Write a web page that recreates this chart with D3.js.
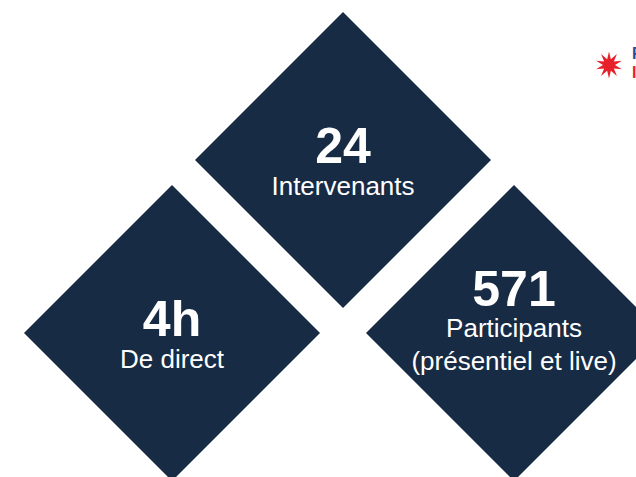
<!DOCTYPE html>
<html>
<head>
<meta charset="utf-8">
<script src="https://cdn.jsdelivr.net/npm/d3@7"></script>
<style>
  html, body { margin: 0; padding: 0; background: #fff; }
  svg { display: block; font-family: "Liberation Sans", Arial, sans-serif; }
</style>
</head>
<body>
<script>
"use strict";

const width = 636;
const height = 477;

// key figures
const figures = ["24", "4h", "571"];
const labels = [["Intervenants"], ["De direct"], ["Participants", "(présentiel et live)"]];
const cols = [1, 0, 2];
const rows = [0, 1, 1];

const data = figures.map((f, i) => ({ figure: f, label: labels[i], col: cols[i], row: rows[i] }));

let x = d3.scaleLinear().domain([0, 2]).range([172, 514]);
let y = d3.scaleLinear().domain([0, 1]).range([160, 333]);
const r = 148;

let svg = d3.select("body").append("svg")
    .attr("width", width)
    .attr("height", height);

let line = d3.line();

let g = svg.selectAll("g.tile")
    .data(data)
    .enter()
    .append("g")
    .attr("class", "tile")
    .attr("transform", d => `translate(${x(d.col)},${y(d.row)})`);

g.append("path")
    .attr("d", line([[0, -r], [r, 0], [0, r], [-r, 0]]) + "Z")
    .style("fill", "#172b45");

g.append("text")
    .attr("text-anchor", "middle")
    .attr("y", d => d.label.length > 1 ? -27 : 3)
    .style("fill", "#fff")
    .style("font-weight", "bold")
    .style("font-size", "50px")
    .text(d => d.figure);

g.each(function(d) {
    let t = d3.select(this);
    d.label.forEach((l, i) => {
        t.append("text")
            .attr("text-anchor", "middle")
            .attr("y", (d.label.length > 1 ? 4 : 35) + i * 33)
            .style("fill", "#fff")
            .style("font-size", "26px")
            .text(l);
    });
});

// logo fragment, top right (cut by the edge, as in the slide)
let star = d3.range(20).map(i => {
    let a = i * Math.PI / 10 - Math.PI / 2;
    let rr = i % 2 ? 6 : 13.5;
    return [609 + rr * Math.cos(a), 65 + rr * Math.sin(a)];
});
svg.append("path")
    .attr("d", line(star) + "Z")
    .style("fill", "#e8202a");

let logo = svg.append("g")
    .style("font-weight", "bold")
    .style("font-size", "16px");
logo.append("text")
    .attr("x", 632).attr("y", 59)
    .style("fill", "#2c4a9a")
    .text("F");
logo.append("text")
    .attr("x", 632).attr("y", 78)
    .style("fill", "#e8202a")
    .text("I");
</script>
</body>
</html>
